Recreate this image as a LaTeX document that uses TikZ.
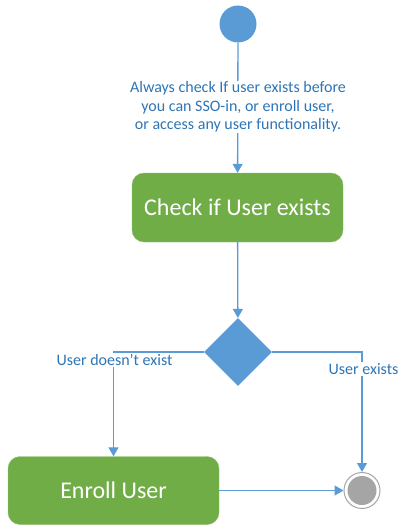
\documentclass[tikz,border=0pt]{standalone}
\usepackage{fontspec}
\setmainfont{Carlito}
\usetikzlibrary{arrows.meta,shapes.geometric}
\definecolor{ublue}{HTML}{5B9BD5}
\definecolor{tblue}{HTML}{2E75B6}
\definecolor{ugreen}{HTML}{70AD47}
\definecolor{ugray}{HTML}{A5A5A5}
\tikzset{
  conn/.style={draw=ublue, line width=1.3pt, -{Triangle[width=10pt,length=9pt]}},
  actbox/.style={rectangle, rounded corners=12pt, fill=ugreen, draw=ugreen!80!white, text=white, font=\fontsize{24}{28}\selectfont, inner sep=0pt},
  lbl/.style={text=tblue, font=\fontsize{16}{18.5}\selectfont, fill=white, inner sep=1pt, align=center},
}
\begin{document}
\begin{tikzpicture}[x=1pt,y=-1pt]
\useasboundingbox (0,0) rectangle (399,527);
\node[circle, fill=ublue, minimum size=37pt, inner sep=0pt] (start) at (238,24) {};
\node[actbox, minimum width=211pt, minimum height=69pt] (check) at (237.5,207.5) {Check if User exists};
\node[diamond, fill=ublue, minimum width=68pt, minimum height=68pt, inner sep=0pt] (dec) at (238,352) {};
\node[actbox, minimum width=211pt, minimum height=68pt] (enroll) at (113.5,490.5) {Enroll User};
\node[circle, draw=ugray, line width=1pt, fill=white, minimum size=36pt, inner sep=0pt] (endo) at (362,490.5) {};
\node[circle, fill=ugray, minimum size=29pt, inner sep=0pt] (endi) at (362,490.5) {};
\draw[conn] (start) -- (check);
\node[lbl] (note) at (238,107) {Always check If user exists before\\you can SSO-in, or enroll user,\\or access any user functionality.};
\draw[conn] (check) -- (dec);
\draw[conn] (dec.west) -| (enroll.north);
\node[lbl, inner xsep=0pt] (nolbl) at (114.5,360) {User doesn’t exist};
\draw[conn] (dec.east) -| (endo.north);
\node[lbl] (yeslbl) at (363.5,369) {User exists};
\draw[conn] (enroll.east) -- (endo.west);
\end{tikzpicture}
\end{document}
